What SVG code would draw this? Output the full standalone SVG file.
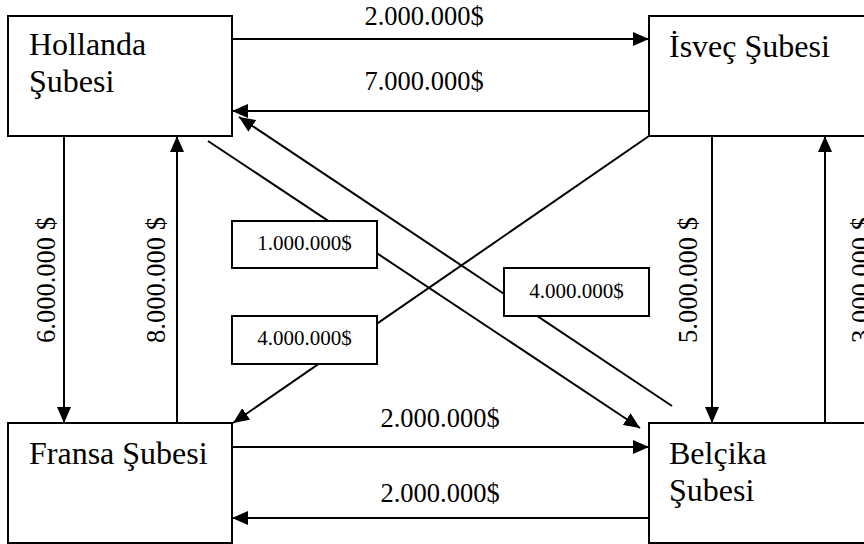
<svg xmlns="http://www.w3.org/2000/svg" width="864" height="544" viewBox="0 0 864 544">
<style>
.box{fill:#fff;stroke:#000;stroke-width:2}
.ln{stroke:#000;stroke-width:2;fill:none}
.arr{marker-end:url(#ah)}
.name{font-family:"Liberation Serif","Times New Roman",serif;font-size:32px;fill:#000}
.amt{font-family:"Liberation Serif","Times New Roman",serif;font-size:26.5px;fill:#000;text-anchor:middle}
.sm{font-family:"Liberation Serif","Times New Roman",serif;font-size:21px;fill:#000;text-anchor:middle}
</style>
<defs>
<marker id="ah" markerUnits="userSpaceOnUse" markerWidth="16" markerHeight="14" refX="16" refY="7" orient="auto" viewBox="0 0 16 14">
<path d="M0,0 L16,7 L0,14 Z" fill="#000"/>
</marker>
</defs>
<rect width="864" height="544" fill="#fff"/>
<g id="connectors">
<line class="ln arr" x1="232" y1="39" x2="649" y2="39"/>
<line class="ln arr" x1="649" y1="111" x2="232" y2="111"/>
<line class="ln arr" x1="64" y1="136" x2="64" y2="423"/>
<line class="ln arr" x1="177" y1="423" x2="177" y2="136"/>
<line class="ln arr" x1="712" y1="136" x2="712" y2="423"/>
<line class="ln arr" x1="825" y1="423" x2="825" y2="136"/>
<line class="ln arr" x1="232" y1="447" x2="649" y2="447"/>
<line class="ln arr" x1="649" y1="518" x2="232" y2="518"/>
<line class="ln arr" x1="208" y1="141" x2="640" y2="428"/>
<line class="ln arr" x1="672" y1="406" x2="239" y2="117"/>
<line class="ln arr" x1="649" y1="136" x2="233" y2="423"/>
</g>
<g id="connector-labels">
<text class="amt" x="424" y="25">2.000.000$</text>
<text class="amt" x="424" y="90">7.000.000$</text>
<text class="amt" x="440" y="427">2.000.000$</text>
<text class="amt" x="440" y="502">2.000.000$</text>
<text class="amt" transform="translate(55,280) rotate(-90)">6.000.000 $</text>
<text class="amt" transform="translate(165,280) rotate(-90)">8.000.000 $</text>
<text class="amt" transform="translate(697,280) rotate(-90)">5.000.000 $</text>
<text class="amt" transform="translate(870,280) rotate(-90)">3.000.000 $</text>
<g id="label-box-1">
<rect class="box" x="232" y="221" width="145" height="47"/>
<text class="sm" x="304.5" y="250">1.000.000$</text>
</g>
<g id="label-box-2">
<rect class="box" x="504" y="268" width="145" height="48"/>
<text class="sm" x="576.5" y="298">4.000.000$</text>
</g>
<g id="label-box-3">
<rect class="box" x="232" y="316" width="145" height="48"/>
<text class="sm" x="304.5" y="345">4.000.000$</text>
</g>
</g>
<g id="node-hollanda">
<rect class="box" x="8" y="16" width="224" height="120"/>
<text class="name" x="29" y="55">Hollanda</text>
<text class="name" x="29" y="92">Şubesi</text>
</g>
<g id="node-isvec">
<rect class="box" x="649" y="16" width="230" height="120"/>
<text class="name" x="669" y="57">İsveç Şubesi</text>
</g>
<g id="node-fransa">
<rect class="box" x="8" y="423" width="224" height="120"/>
<text class="name" x="29" y="464">Fransa Şubesi</text>
</g>
<g id="node-belcika">
<rect class="box" x="649" y="423" width="230" height="120"/>
<text class="name" x="669" y="464">Belçika</text>
<text class="name" x="669" y="501">Şubesi</text>
</g>
</svg>
